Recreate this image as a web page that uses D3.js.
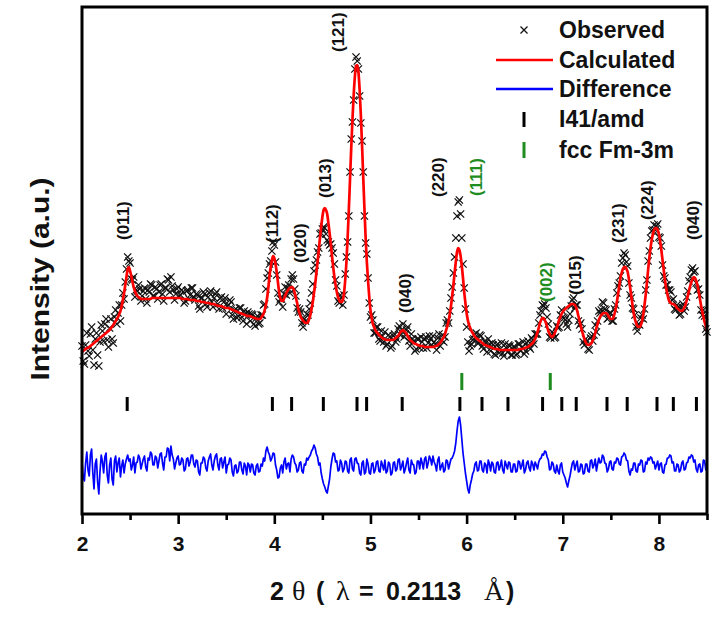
<!DOCTYPE html>
<html>
<head>
<meta charset="utf-8">
<script src="https://cdn.jsdelivr.net/npm/d3@7"></script>
<style>
  html, body { margin: 0; padding: 0; background: #ffffff; }
  svg { display: block; font-family: "Liberation Sans", Arial, sans-serif; }
</style>
</head>
<body>
<svg id="chart" width="725" height="628"></svg>
<script>
// ---------------- DATA ----------------
// 2θ sampling grid of the pattern: 2.0000 ... 8.5000, step 0.0125
const twoThetaStart = 2.0;
const twoThetaStep = 0.0125;

// Calculated (Rietveld fit) intensity, a.u. (one row = 0.25° of 2θ)
const calculated = [
  162,163,164,165,166,166,167,168,169,170,171,172,173,174,175,176,177,178,179,180,
  181,182,183,184,186,187,189,191,193,195,197,200,203,208,214,221,229,237,245,247,
  243,238,232,227,223,220,218,217,216,215,215,215,215,215,215,215,215,215,216,216,
  216,216,216,216,216,216,216,216,216,216,216,216,216,216,216,216,216,216,216,216,
  216,216,216,215,215,215,215,215,215,214,214,214,214,214,214,213,213,213,213,212,
  212,212,212,211,211,211,211,210,210,210,210,209,209,208,208,208,208,207,207,206,
  206,206,206,205,205,204,204,203,203,202,202,201,201,200,200,199,199,198,198,198,
  198,197,197,196,196,195,195,195,195,196,198,200,204,209,216,226,238,247,254,258,
  256,250,242,232,222,216,213,213,215,218,221,223,225,226,227,227,225,221,216,211,
  205,201,197,195,193,192,191,191,192,195,199,205,212,221,230,241,252,264,276,287,
  297,304,306,304,300,291,281,270,258,247,237,229,222,217,214,212,212,214,221,234,
  252,276,304,335,366,394,418,437,448,449,442,424,399,369,336,305,276,252,233,217,
  204,196,190,187,184,182,181,179,178,177,176,175,175,174,174,174,174,174,174,174,
  175,176,177,178,180,182,183,184,183,182,180,178,176,174,173,172,171,170,170,169,
  169,168,168,168,168,167,167,167,167,167,167,167,167,167,168,168,169,170,171,173,
  175,177,180,184,188,193,200,208,218,229,241,252,262,266,264,258,248,236,222,211,
  201,194,189,186,183,181,179,177,176,175,174,173,172,171,170,169,169,168,168,167,
  167,166,166,165,165,165,165,164,164,164,164,164,164,164,164,164,164,164,164,164,
  164,164,164,164,165,165,165,165,166,166,167,167,168,169,170,171,173,175,178,182,
  186,191,194,196,196,194,191,187,183,180,178,177,178,180,183,186,190,194,197,200,
  202,204,205,206,207,208,209,210,210,210,209,207,203,198,193,188,183,179,175,172,
  170,169,169,170,171,174,177,181,186,190,194,197,199,200,201,201,201,200,198,196,
  195,195,196,200,205,212,220,228,236,241,245,247,247,245,242,235,227,218,209,201,
  195,191,188,187,187,189,193,200,209,219,231,244,256,266,274,280,284,286,286,284,
  280,273,264,254,244,234,226,220,215,212,211,210,210,209,208,206,205,204,203,203,
  204,206,209,213,218,223,228,232,235,237,236,233,229,223,216,209,203,197,192,188,
  184
];

// Difference (observed - calculated), a.u., same grid
const difference = [
  6,-10,-14,4,15,-3,-9,12,18,-6,-22,3,8,-15,-27,-4,12,5,-6,10,
  14,-8,-16,2,9,-12,-18,6,11,-5,4,9,-10,1,7,-6,3,8,12,6,
  8,-3,2,10,-6,4,5,12,9,-2,3,8,11,0,-4,9,7,15,13,2,
  2,11,9,-1,6,13,14,4,-3,10,10,19,18,6,21,12,8,-2,4,9,
  11,2,3,9,7,-4,-2,8,9,1,5,12,12,3,0,7,6,-5,-8,4,
  4,10,8,-1,-4,6,10,13,2,-3,6,11,13,2,-3,8,9,-1,5,10,
  -6,2,3,9,7,-5,-9,1,2,-6,-4,5,5,-3,-7,4,1,-8,4,2,
  -5,3,2,-6,-8,1,3,-5,-4,3,1,9,6,16,20,15,12,6,9,14,
  13,2,-3,-11,-10,-1,2,-6,5,9,-2,3,4,-5,8,12,10,4,2,-5,
  -3,4,5,-4,-6,3,2,9,7,10,12,16,18,22,19,13,10,2,4,-6,
  -12,-17,-20,-24,-26,-19,-12,0,8,14,13,5,6,-4,-3,7,4,-5,-2,6,
  5,-4,-6,7,9,-2,-4,8,9,4,3,-6,-8,4,6,-7,-5,8,3,-6,
  -7,3,4,-6,-3,5,6,-4,-5,6,2,-3,7,-6,-4,5,3,-8,-6,4,
  5,-4,-2,7,8,-3,1,6,-6,-2,4,9,-3,-6,7,3,2,-7,-5,6,
  6,-2,9,4,-2,8,10,-1,4,11,8,2,11,5,2,-4,7,10,-3,1,
  4,-5,-3,7,6,-2,3,8,9,12,16,24,36,46,50,42,28,14,4,-6,
  -14,-22,-26,-18,-13,-7,-4,3,5,-4,-3,6,6,-3,-5,4,2,-6,7,3,
  -4,5,3,-5,-6,4,5,-3,1,7,-3,-6,6,2,-2,5,4,-5,-5,3,
  3,-5,-4,6,5,-2,2,7,-6,-3,4,6,-1,-4,6,3,-3,5,2,-2,
  5,8,9,13,12,16,15,10,7,-3,-2,5,3,-4,-6,2,-4,-7,2,4,
  -5,-8,-11,-16,-20,-14,-9,-2,4,6,-3,2,6,-5,-4,3,2,-7,-6,3,
  3,-4,-5,6,7,-1,2,8,-4,3,9,4,5,12,10,4,3,-5,-2,5,
  6,-2,-3,5,4,9,8,3,2,10,11,14,12,7,6,-4,-8,-2,-3,4,
  4,-4,-5,3,2,7,6,-5,-4,5,3,9,7,10,9,4,5,-2,2,6,
  -3,3,4,-5,-6,2,3,9,9,12,11,4,5,-4,-4,3,2,-5,-3,4,
  6,-3,-2,4,5,10,9,12,11,5,7,-2,-5,2,3,-5,-4,7,6,-3,
  -2
];

// Offset of the difference curve in the same intensity units
const differenceOffset = 47;

// Bragg reflection positions (2θ)
const reflectionsI41amd = [2.47, 3.98, 4.18, 4.51, 4.86, 4.96, 5.33, 5.93, 6.16, 6.43, 6.79, 6.99, 7.14, 7.46, 7.67, 7.98, 8.15, 8.39];
const reflectionsFcc = [5.95, 6.87];

// Peak (hkl) labels
const peakHkl   = ["(011)","(112)","(020)","(013)","(121)","(040)","(220)","(111)","(002)","(015)","(231)","(224)","(040)"];
const peakPos   = [2.43, 3.97, 4.27, 4.53, 4.66, 5.36, 5.70, 6.10, 6.82, 7.13, 7.57, 7.87, 8.35];
const peakLevel = [274, 271, 251, 316, 462, 201, 317, 318, 212, 219, 271, 294, 274];
const peakPhase = ["t","t","t","t","t","t","t","c","c","t","t","t","t"];

// Axis ticks
const xMajorTicks = [2, 3, 4, 5, 6, 7, 8];
const xMinorTicks = [2.5, 3.5, 4.5, 5.5, 6.5, 7.5, 8.5];
const xDomain = [2, 8.5];
const yDomain = [0, 507];

// Legend entries
const legendLabels = ["Observed", "Calculated", "Difference", "I41/amd", "fcc Fm-3m"];

// ---------------- DRAW ----------------
const GREEN = "#1e8c1e";
const svg = d3.select("#chart");
svg.append("rect").attr("width", 725).attr("height", 628).attr("fill", "#ffffff");

const plot = { left: 82, right: 707, top: 7, bottom: 514 };
const x = d3.scaleLinear().domain(xDomain).range([plot.left, plot.right]);
const y = d3.scaleLinear().domain(yDomain).range([plot.bottom, plot.top]);

const twoTheta = calculated.map((_, i) => +(twoThetaStart + i * twoThetaStep).toFixed(4));
const observed = calculated.map((c, i) => c + difference[i]);

const pts = twoTheta.map((t, i) => ({ t, obs: observed[i], calc: calculated[i], diff: difference[i] + differenceOffset }));

const g = svg.append("g");

// Difference curve
g.append("path")
  .datum(pts)
  .attr("fill", "none")
  .attr("stroke", "#0000ff")
  .attr("stroke-width", 1.7)
  .attr("stroke-linejoin", "round")
  .attr("d", d3.line().x(d => x(d.t)).y(d => y(d.diff)));

// Observed markers (×)
const cross = "M-3.6,-3.6L3.6,3.6M-3.6,3.6L3.6,-3.6";
g.append("g").selectAll("path")
  .data(pts)
  .join("path")
  .attr("transform", d => `translate(${x(d.t)},${y(d.obs)})`)
  .attr("d", cross)
  .attr("stroke", "#111")
  .attr("stroke-width", 1.25)
  .attr("fill", "none");

// Calculated curve
g.append("path")
  .datum(pts)
  .attr("fill", "none")
  .attr("stroke", "#ff0000")
  .attr("stroke-width", 2.7)
  .attr("stroke-linejoin", "round")
  .attr("d", d3.line().curve(d3.curveMonotoneX).x(d => x(d.t)).y(d => y(d.calc)));

// Bragg reflection ticks
g.append("g").selectAll("line")
  .data(reflectionsI41amd)
  .join("line")
  .attr("x1", d => x(d)).attr("x2", d => x(d))
  .attr("y1", y(117)).attr("y2", y(103))
  .attr("stroke", "#000").attr("stroke-width", 3);

g.append("g").selectAll("line")
  .data(reflectionsFcc)
  .join("line")
  .attr("x1", d => x(d)).attr("x2", d => x(d))
  .attr("y1", y(141)).attr("y2", y(124))
  .attr("stroke", GREEN).attr("stroke-width", 3);

// Peak labels
g.append("g").selectAll("text")
  .data(peakHkl)
  .join("text")
  .attr("transform", (d, i) => `translate(${x(peakPos[i])},${y(peakLevel[i])}) rotate(-90)`)
  .attr("dy", "0.36em")
  .attr("text-anchor", "start")
  .attr("font-size", 17)
  .attr("font-weight", "bold")
  .attr("fill", (d, i) => peakPhase[i] === "c" ? GREEN : "#111")
  .text(d => d);

// Frame
svg.append("rect")
  .attr("x", plot.left).attr("y", plot.top)
  .attr("width", plot.right - plot.left).attr("height", plot.bottom - plot.top)
  .attr("fill", "none").attr("stroke", "#000").attr("stroke-width", 3);

// X axis (major + minor)
const axMajor = svg.append("g")
  .attr("transform", `translate(0,${plot.bottom})`)
  .call(d3.axisBottom(x).tickValues(xMajorTicks).tickFormat(d3.format("d")).tickSize(10).tickSizeOuter(0).tickPadding(12));
axMajor.select(".domain").remove();
axMajor.selectAll(".tick line").attr("stroke", "#000").attr("stroke-width", 2.6);
axMajor.selectAll(".tick text")
  .attr("font-family", "'Liberation Sans', Arial, sans-serif")
  .attr("font-size", 21).attr("font-weight", "bold").attr("fill", "#111");

const axMinor = svg.append("g")
  .attr("transform", `translate(0,${plot.bottom})`)
  .call(d3.axisBottom(x).tickValues(xMinorTicks).tickFormat("").tickSize(6).tickSizeOuter(0));
axMinor.select(".domain").remove();
axMinor.selectAll(".tick line").attr("stroke", "#000").attr("stroke-width", 2.6);

// X axis title
const xt = svg.append("text")
  .attr("y", 600)
  .attr("font-size", 25)
  .attr("font-weight", "bold")
  .attr("fill", "#111");
const titleParts = [
  { s: "2", x: 270, serif: false },
  { s: "θ", x: 292, serif: true },
  { s: "(", x: 316, serif: false },
  { s: "λ", x: 336, serif: true },
  { s: "=", x: 359, serif: false },
  { s: "0.2113", x: 386, serif: false },
  { s: "Å", x: 484, serif: true },
  { s: ")", x: 506, serif: false }
];
titleParts.forEach(p => {
  xt.append("tspan")
    .attr("x", p.x)
    .attr("font-family", p.serif ? "'Liberation Serif', 'Times New Roman', serif" : "'Liberation Sans', Arial, sans-serif")
    .attr("font-weight", p.serif ? "normal" : "bold")
    .attr("font-size", p.serif ? 28 : 25)
    .text(p.s);
});

// Y axis title
svg.append("text")
  .attr("transform", "translate(49,279) rotate(-90)")
  .attr("text-anchor", "middle")
  .attr("font-size", 25)
  .attr("font-weight", "bold")
  .attr("fill", "#111")
  .attr("textLength", 203)
  .attr("lengthAdjust", "spacingAndGlyphs")
  .text("Intensity (a.u.)");

// Legend
const lg = svg.append("g");
const rowY = [30, 60, 89, 119, 150];
lg.append("path").attr("transform", `translate(524,${rowY[0]})`).attr("d", "M-3.5,-3.5L3.5,3.5M-3.5,3.5L3.5,-3.5")
  .attr("stroke", "#111").attr("stroke-width", 1.3);
lg.append("line").attr("x1", 496).attr("x2", 553).attr("y1", rowY[1]).attr("y2", rowY[1])
  .attr("stroke", "#ff0000").attr("stroke-width", 2.6);
lg.append("line").attr("x1", 496).attr("x2", 553).attr("y1", rowY[2]).attr("y2", rowY[2])
  .attr("stroke", "#0000ff").attr("stroke-width", 2.6);
lg.append("line").attr("x1", 524).attr("x2", 524).attr("y1", rowY[3] - 7).attr("y2", rowY[3] + 8)
  .attr("stroke", "#000").attr("stroke-width", 3);
lg.append("line").attr("x1", 524).attr("x2", 524).attr("y1", rowY[4] - 8).attr("y2", rowY[4] + 8)
  .attr("stroke", GREEN).attr("stroke-width", 3);
lg.selectAll("text.leg")
  .data(legendLabels)
  .join("text")
  .attr("class", "leg")
  .attr("x", 559)
  .attr("y", (d, i) => rowY[i])
  .attr("dy", "0.36em")
  .attr("font-size", 23)
  .attr("font-weight", "bold")
  .attr("fill", "#111")
  .text(d => d);
</script>
</body>
</html>
